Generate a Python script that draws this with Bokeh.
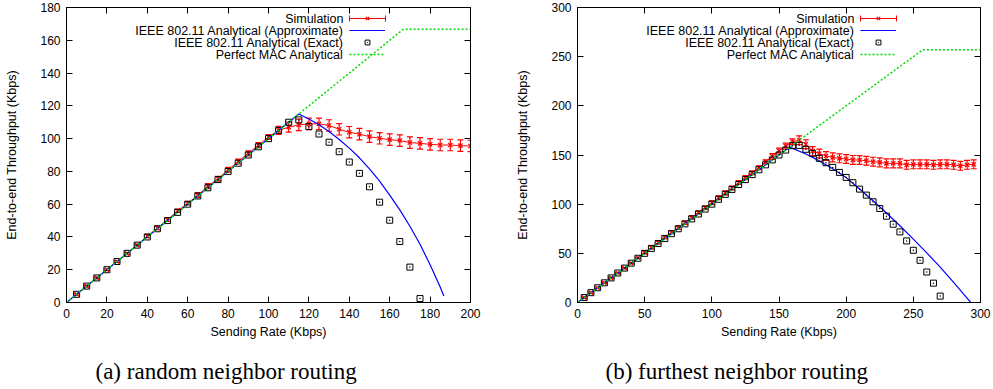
from bokeh.plotting import figure
from bokeh.models import (Range1d, LinearAxis, FixedTicker, Whisker, TeeHead, ColumnDataSource,
                          Legend, LegendItem, Label, Title)
from bokeh.layouts import row
from bokeh.core.properties import value
from bokeh.embed import file_html
from bokeh.resources import INLINE

# ---------------- data: (a) random neighbor routing ----------------
a_x_ticks = [0, 20, 40, 60, 80, 100, 120, 140, 160, 180, 200]
a_y_ticks = [0, 20, 40, 60, 80, 100, 120, 140, 160, 180]
a_sim_rate = [5, 10, 15, 20, 25, 30, 35, 40, 45, 50, 55, 60, 65, 70, 75, 80, 85, 90, 95, 100,
              105, 110, 115, 120, 125, 130, 135, 140, 145, 150, 155, 160, 165, 170, 175, 180,
              185, 190, 195, 200]
a_sim_thr = [5, 10, 15, 20, 25, 30, 35, 40.5, 45.5, 50.5, 56, 60.5, 65.5, 71, 75.5, 81, 86, 91,
             96, 101, 105, 107, 108.4, 109, 109, 108, 105.7, 103.9, 102.7, 101.2, 100.2, 99.4,
             98.8, 97.6, 97.1, 96.5, 96.1, 96.1, 95.7, 95.5]
a_sim_err = [0.5, 0.5, 0.5, 0.5, 0.5, 0.5, 0.5, 1, 1, 1, 1, 1, 1.5, 1.5, 1.5, 1.5, 1.5, 1.5,
             1.5, 1.5, 2.5, 3, 3.5, 3.5, 3.5, 3.5, 3.5, 3.5, 3.5, 3.5, 3.5, 3.5, 3.5, 3.5, 3.5,
             3.5, 3.5, 3.5, 3.5, 3.5]
a_approx_rate = [0, 115, 120, 125, 130, 135, 140, 145, 150, 155, 160, 165, 170, 175, 180, 185, 186.8]
a_approx_thr = [0, 115, 112, 108.5, 104.3, 99.5, 94.2, 88.3, 81.5, 74, 65.5, 56.5, 46.5, 35.5, 23, 9.5, 4]
a_exact_rate = [5, 10, 15, 20, 25, 30, 35, 40, 45, 50, 55, 60, 65, 70, 75, 80, 85, 90, 95, 100,
                105, 110, 115, 120, 125, 130, 135, 140, 145, 150, 155, 160, 165, 170, 175]
a_exact_thr = [5, 10, 15, 20, 25, 30, 35, 40, 45, 50, 55, 60, 65, 70, 75, 80, 85, 90, 95, 100,
               105, 110, 111.4, 107.3, 102.8, 97.8, 92, 85.7, 78.8, 70.6, 61.2, 50.2, 37.2, 21.6, 2.4]
a_mac_rate = [0, 166.7, 200]
a_mac_thr = [0, 166.7, 166.7]

# ---------------- data: (b) furthest neighbor routing ----------------
b_x_ticks = [0, 50, 100, 150, 200, 250, 300]
b_y_ticks = [0, 50, 100, 150, 200, 250, 300]
b_sim_rate = [5, 10, 15, 20, 25, 30, 35, 40, 45, 50, 55, 60, 65, 70, 75, 80, 85, 90, 95, 100,
              105, 110, 115, 120, 125, 130, 135, 140, 145, 150, 155, 160, 165, 170, 175, 180,
              185, 190, 195, 200, 205, 210, 215, 220, 225, 230, 235, 240, 245, 250, 255, 260,
              265, 270, 275, 280, 285, 290, 295]
b_sim_thr = [5, 10, 15, 20, 25, 30, 35, 40, 45.5, 51, 56, 61, 66.5, 71.5, 76, 81, 86.5, 91.5,
             96.5, 101.5, 106.5, 111.5, 116.5, 122, 127, 132, 137, 143, 148.5, 154, 159, 163.5,
             165, 161, 154, 151.5, 149, 147.6, 146.6, 145.9, 145, 144.9, 144.2, 143.2, 142.5,
             141.5, 141.5, 141.5, 140, 140.5, 140.5, 140.5, 140, 140.5, 140.5, 140, 139, 140, 140.5]
b_sim_err = [0.5, 0.5, 0.5, 0.5, 0.5, 0.5, 0.5, 0.5, 0.5, 1.5, 1.5, 1.5, 1.5, 1.5, 1.5, 1.5,
             1.5, 1.5, 1.5, 2, 2, 2, 2, 2, 2, 2, 2, 2, 3, 3, 3, 3, 4.5, 4.5, 4.5, 4.5, 4.5, 4.5,
             4.5, 4.5, 4.5, 4.5, 4.5, 4.5, 4.5, 4.5, 4.5, 4.5, 4.5, 4.5, 4.5, 4.5, 4.5, 4.5, 4.5,
             4.5, 4.5, 4.5, 4.5]
b_approx_rate = [0, 158, 170, 180, 190, 200, 210, 220, 230, 240, 250, 260, 270, 280, 290, 292.5]
b_approx_thr = [0, 158, 151, 144, 136, 127, 115.5, 103.5, 91, 78, 64.5, 50.5, 36, 20.5, 4.5, 0.5]
b_exact_rate = [5, 10, 15, 20, 25, 30, 35, 40, 45, 50, 55, 60, 65, 70, 75, 80, 85, 90, 95, 100,
                105, 110, 115, 120, 125, 130, 135, 140, 145, 150, 155, 160, 165, 170, 175, 180,
                185, 190, 195, 200, 205, 210, 215, 220, 225, 230, 235, 240, 245, 250, 255, 260,
                265, 270]
b_exact_thr = [5, 10, 15, 20, 25, 30, 35, 40, 45, 50, 55, 60, 65, 70, 75, 80, 85, 90, 95, 100,
               105, 110, 115, 120, 125, 130, 135, 140, 145, 150, 155, 159.5, 159.8, 155.8, 151.7,
               146.6, 142.2, 137.4, 132.3, 127.2, 121.8, 115.3, 109.2, 102.4, 95.6, 87.8, 79.6,
               71.8, 62.6, 53.1, 42.9, 31, 19.7, 6.5]
b_mac_rate = [0, 257, 300]
b_mac_thr = [0, 257, 257]

legend_labels = ["Simulation", "IEEE 802.11 Analytical (Approximate)",
                 "IEEE 802.11 Analytical (Exact)", "Perfect MAC Analytical"]

RED = "#ff0000"
BLUE = "#0000ff"
GREEN = "#00dd00"
FONT = "Liberation Sans"


def style_axis(ax, ticks, show_labels):
    ax.ticker = FixedTicker(ticks=ticks)
    ax.major_tick_in = 6
    ax.major_tick_out = 0
    ax.minor_tick_in = 0
    ax.minor_tick_out = 0
    ax.axis_line_color = "black"
    ax.major_tick_line_color = "black"
    ax.major_label_text_font = FONT
    if show_labels:
        ax.major_label_text_font_size = "12px"
        ax.major_label_text_color = "black"
    else:
        ax.major_label_text_font_size = "1px"
        ax.major_label_text_color = None
        ax.major_label_standoff = 0
    ax.axis_label_text_font = FONT
    ax.axis_label_text_font_size = "12.5px"
    ax.axis_label_text_font_style = "normal"
    ax.axis_label_text_color = "black"


def make_panel(xmax, ymax, xticks, yticks, sim_x, sim_y, sim_e, ap_x, ap_y, ex_x, ex_y,
               mac_x, mac_y, caption, cap_offset, fw, bl, br):
    p = figure(frame_width=fw, frame_height=295, x_range=Range1d(0, xmax),
               y_range=Range1d(0, ymax), output_backend="svg", toolbar_location=None,
               min_border_left=bl, min_border_right=br, min_border_top=7,
               min_border_bottom=87, x_axis_label="Sending Rate (Kbps)",
               y_axis_label="End-to-end Throughput (Kbps)")
    p.grid.visible = False
    p.outline_line_color = "black"
    p.background_fill_color = "white"
    p.border_fill_color = "white"
    style_axis(p.xaxis[0], xticks, True)
    style_axis(p.yaxis[0], yticks, True)
    p.xaxis[0].major_label_standoff = 6
    p.yaxis[0].major_label_standoff = 6
    p.xaxis[0].axis_label_standoff = 4
    p.yaxis[0].axis_label_standoff = 18

    top = LinearAxis()
    style_axis(top, xticks, False)
    p.add_layout(top, "above")
    right = LinearAxis()
    style_axis(right, yticks, False)
    p.add_layout(right, "right")

    src = ColumnDataSource(dict(x=sim_x, y=sim_y,
                                lo=[v - e for v, e in zip(sim_y, sim_e)],
                                hi=[v + e for v, e in zip(sim_y, sim_e)]))
    sim_line = p.line("x", "y", source=src, line_color=RED, line_width=1)
    wh = Whisker(base="x", lower="lo", upper="hi", source=src, line_color=RED, line_width=1.2,
                 upper_head=TeeHead(size=6, line_color=RED, line_width=1.2),
                 lower_head=TeeHead(size=6, line_color=RED, line_width=1.2))
    p.add_layout(wh)
    sim_pts = p.scatter("x", "y", source=src, marker="x", size=6, line_color=RED, line_width=1.2)

    ap = p.line(ap_x, ap_y, line_color=BLUE, line_width=1.2)
    ex = p.scatter(ex_x, ex_y, marker="square_dot", size=6, line_color="black",
                   fill_alpha=0, line_width=1)
    mac = p.line(mac_x, mac_y, line_color=GREEN, line_width=1.5, line_dash="2 2")

    # legend: glyph samples on the right, texts right-aligned on the left
    leg = Legend(items=[LegendItem(label=value(" "), renderers=[sim_line, sim_pts]),
                        LegendItem(label=value(" "), renderers=[ap]),
                        LegendItem(label=value(" "), renderers=[ex]),
                        LegendItem(label=value(" "), renderers=[mac])],
                 location=(283, 242), glyph_width=36, glyph_height=12, label_height=12,
                 label_width=0, label_standoff=0, padding=0, margin=0, spacing=0,
                 border_line_color=None, background_fill_alpha=0,
                 label_text_font_size="1px")
    p.add_layout(leg)
    cap_src = ColumnDataSource(dict(b=[284], lo=[283], hi=[319]))
    p.add_layout(Whisker(base="b", lower="lo", upper="hi", source=cap_src, dimension="width",
                         base_units="screen", lower_units="screen", upper_units="screen",
                         line_color=RED, line_width=1,
                         upper_head=TeeHead(size=6, line_color=RED, line_width=1),
                         lower_head=TeeHead(size=6, line_color=RED, line_width=1)))
    for i, txt in enumerate(legend_labels):
        p.add_layout(Label(x=277, y=284 - 12 * i, x_units="screen", y_units="screen",
                           text=txt, text_align="right", text_baseline="middle",
                           text_font=FONT, text_font_size="12.5px", text_color="black"))

    # caption below the panel
    t = Title(text=caption, align="left", offset=cap_offset, standoff=31,
              vertical_align="bottom", text_font="Liberation Serif",
              text_font_size="23px", text_font_style="normal", text_color="black")
    p.add_layout(t, "below")
    return p


pa = make_panel(200, 180, a_x_ticks, a_y_ticks, a_sim_rate, a_sim_thr, a_sim_err,
                a_approx_rate, a_approx_thr, a_exact_rate, a_exact_thr, a_mac_rate, a_mac_thr,
                "(a) random neighbor routing", 29, 404, 66, 41)
pb = make_panel(300, 300, b_x_ticks, b_y_ticks, b_sim_rate, b_sim_thr, b_sim_err,
                b_approx_rate, b_approx_thr, b_exact_rate, b_exact_thr, b_mac_rate, b_mac_thr,
                "(b) furthest neighbor routing", 28, 403, 66, 13)

layout = row(pa, pb, spacing=0)
open("out.html", "w").write(file_html(layout, INLINE))
